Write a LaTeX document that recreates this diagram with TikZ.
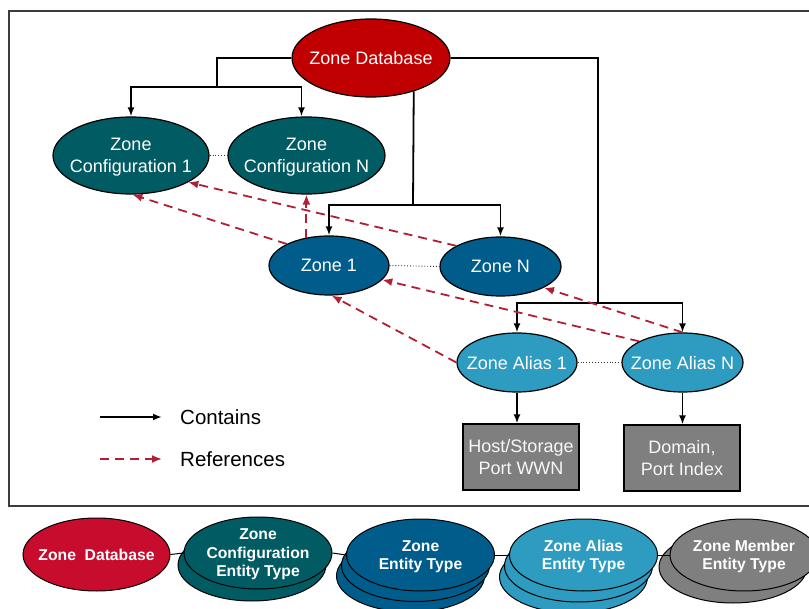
\documentclass[tikz,border=0pt]{standalone}
\usepackage{fontspec}
\setmainfont{Liberation Sans}
\usepackage{xcolor}
\usepackage{tikz}
\usetikzlibrary{shapes.geometric,arrows.meta}

\definecolor{dbred}{RGB}{192,0,0}
\definecolor{dbcrimson}{RGB}{200,12,46}
\definecolor{cfgteal}{RGB}{0,91,99}
\definecolor{zoneblue}{RGB}{0,92,138}
\definecolor{aliasblue}{RGB}{46,156,192}
\definecolor{membergray}{RGB}{127,127,127}
\definecolor{refred}{RGB}{178,30,52}
\definecolor{framegray}{RGB}{60,60,60}

\tikzset{
  entity/.style={ellipse,draw=black,line width=1.2pt,inner xsep=-20pt,inner ysep=0pt,
    text=white,align=center,text depth=0pt,font=\fontsize{18}{22}\selectfont},
  memberbox/.style={rectangle,draw=black,line width=1.2pt,fill=membergray,
    minimum width=116pt,minimum height=66pt,inner sep=0pt,text=white!94!gray,
    align=center,font=\fontsize{18}{22}\selectfont},
  etype/.style={ellipse,draw=black,line width=1pt,minimum width=148pt,minimum height=72pt,
    inner xsep=-20pt,inner ysep=-5pt,text=white,align=center,text depth=0pt,
    font=\fontsize{15.7}{18.5}\selectfont\bfseries},
  contains/.style={draw=black,line width=1.8pt,-{Latex[length=9pt,width=7pt]}},
  joint/.style={draw=black,line width=1.8pt},
  refs/.style={draw=refred,line width=1.8pt,dash pattern=on 9pt off 6pt,
    -{Latex[length=10pt,width=8pt]}},
  sibling/.style={draw=black!80,line width=0.9pt,dotted},
  typelink/.style={draw=black,line width=1pt},
  legend/.style={inner sep=0pt,anchor=west,font=\fontsize{20.5}{24}\selectfont}
}

\begin{document}
\begin{tikzpicture}[x=1pt,y=-1pt]
\useasboundingbox (0,0) rectangle (809,609);
\draw[framegray,line width=1.5pt] (815,11) -- (9,11) -- (9,506) -- (815,506);

\node[entity,fill=dbred,minimum width=158pt,minimum height=78pt] (zdb) at (371,58) {Zone Database};
\node[entity,fill=cfgteal,minimum width=156pt,minimum height=77pt] (zc1) at (131,155.5) {Zone\\Configuration 1};
\node[entity,fill=cfgteal,minimum width=157pt,minimum height=77pt] (zcn) at (306.5,155.5) {Zone\\Configuration N};
\node[entity,fill=zoneblue,minimum width=120pt,minimum height=59pt] (z1) at (329,265.5) {Zone 1};
\node[entity,fill=zoneblue,minimum width=121pt,minimum height=59pt] (zn) at (500.5,266.5) {Zone N};
\node[entity,fill=aliasblue,minimum width=120pt,minimum height=59pt] (za1) at (517,362.5) {Zone Alias 1};
\node[entity,fill=aliasblue,minimum width=121pt,minimum height=59pt] (zan) at (682.5,362.5) {Zone Alias N};
\node[memberbox] (wwn) at (521,457) {Host/Storage\\Port WWN};
\node[memberbox] (pidx) at (682,458) {Domain,\\Port Index};

\draw[sibling] (zc1.east) -- (zcn.west);
\draw[sibling] (z1.east) -- (zn.west);
\draw[sibling] (za1.east) -- (zan.west);

\coordinate (jcfg) at (217,87);
\coordinate (jzone) at (413,205);
\coordinate (jalias) at (598,303);
\draw[joint] (zdb.west) -| (jcfg);
\draw[contains] (jcfg) -| (zc1.north);
\draw[contains] (jcfg) -| ([xshift=-5pt]zcn.north);
\draw[joint] (zdb.-38) -- (jzone);
\draw[contains] (jzone) -| (z1.north);
\draw[contains] (jzone) -| (zn.north);
\draw[joint] (zdb.east) -| (jalias);
\draw[contains] (jalias) -| (za1.north);
\draw[contains] (jalias) -| (zan.north);
\draw[contains] (za1.south) -- (za1.south |- wwn.north);
\draw[contains] (zan.south) -- (zan.south |- pidx.north);

\draw[refs] (z1.153) -- (zc1.-88);
\draw[refs] (z1.129) -- (z1.129 |- zcn.south);
\draw[refs] (zn.155) -- (zc1.-25);
\draw[refs] (za1.west) -- (z1.-85);
\draw[refs] (zan.154) -- (z1.-15);
\draw[refs] (zan.north) -- (zn.-26);

\coordinate (legca) at (100,417);
\coordinate (legcb) at (162,417);
\coordinate (legra) at (100,459);
\coordinate (legrb) at (162,459);
\draw[contains] (legca) -- (legcb);
\draw[refs] (legra) -- (legrb);
\node[legend] (legc) at (180,417) {Contains};
\node[legend] (legr) at (180,459) {References};

\node[etype,fill=dbcrimson,minimum width=147pt,minimum height=73pt] (dbtype) at (96.5,554.5) {Zone\ \ Database};
\node[etype,fill=cfgteal] (cfgtypeb) at (252,565) {};
\node[etype,fill=cfgteal] (cfgtype) at (258,553) {Zone\\Configuration\\Entity Type};
\node[etype,fill=zoneblue] (zonetypec) at (410.5,576) {};
\node[etype,fill=zoneblue] (zonetypeb) at (415.5,565.5) {};
\node[etype,fill=zoneblue] (zonetype) at (420.5,555) {Zone\\Entity Type};
\node[etype,fill=aliasblue] (aliastypec) at (573.5,577) {};
\node[etype,fill=aliasblue] (aliastypeb) at (578.5,566) {};
\node[etype,fill=aliasblue] (aliastype) at (583.5,555) {Zone Alias\\Entity Type};
\node[etype,fill=membergray] (membertypeb) at (733,567) {};
\node[etype,fill=membergray] (membertype) at (744,555) {Zone Member\\Entity Type};

\draw[typelink] (dbtype.east) -- (cfgtype.west);
\draw[typelink] (cfgtype.east) -- (zonetype.west);
\draw[typelink] (zonetype.east) -- (aliastype.west);
\draw[typelink] (aliastype.east) -- (membertype.west);
\end{tikzpicture}
\end{document}
